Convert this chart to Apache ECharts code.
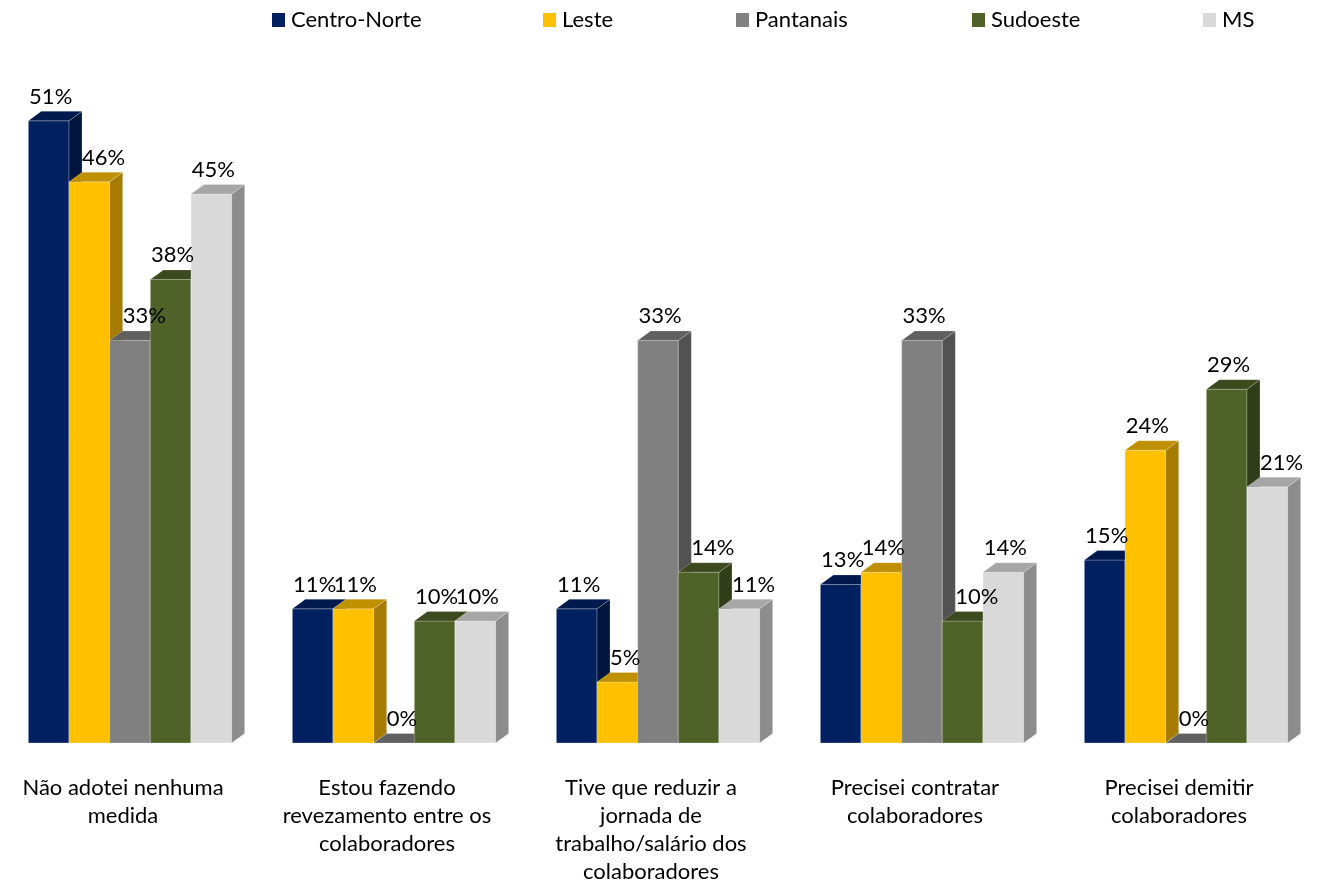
<!DOCTYPE html>
<html>
<head>
<meta charset="utf-8">
<script src="https://cdn.jsdelivr.net/npm/echarts@6/dist/echarts.min.js"></script>
<style>
  html, body { margin: 0; padding: 0; background: #ffffff; }
  #chart { width: 1329px; height: 881px; }
</style>
</head>
<body>
<div id="chart"></div>
<script>
// Categories (line breaks as they wrap under each group)
const categories = [
  'Não adotei nenhuma\nmedida',
  'Estou fazendo\nrevezamento entre os\ncolaboradores',
  'Tive que reduzir a\njornada de\ntrabalho/salário dos\ncolaboradores',
  'Precisei contratar\ncolaboradores',
  'Precisei demitir\ncolaboradores'
];

const seriesNames = ['Centro-Norte', 'Leste', 'Pantanais', 'Sudoeste', 'MS'];

// Share of companies per region (%)
const centroNorte = [51, 11, 11, 13, 15];
const leste       = [46, 11, 5, 14, 24];
const pantanais   = [33, 0, 33, 33, 0];
const sudoeste    = [38, 10, 14, 10, 29];
const ms          = [45, 10, 11, 14, 21];

const seriesValues = [centroNorte, leste, pantanais, sudoeste, ms];

// Face colours of each 3D column: front, top and right side
const faces = [
  { front: '#002060', top: '#001a4e', side: '#00153e' },
  { front: '#FFC000', top: '#BF9000', side: '#A67C00' },
  { front: '#808080', top: '#606060', side: '#525252' },
  { front: '#4F6228', top: '#3C4A1E', side: '#313D18' },
  { front: '#D9D9D9', top: '#A6A6A6', side: '#8C8C8C' }
];

const FONT = 'Lato, "Open Sans", sans-serif';
const FONT_SIZE = 22;
const GROUP_RATIO = 0.77;   // share of a category band taken by its columns
const DEPTH_X = 13;         // oblique depth of the columns
const DEPTH_Y = 9.5;
const EDGE = 'rgba(255,255,255,0.35)';

function columnRenderer(sIdx) {
  return function (params, api) {
    const cat = api.value(0);
    const val = api.value(1);
    const base = api.coord([cat, 0]);
    const head = api.coord([cat, val]);
    const band = api.size([1, 0])[0];
    const groupW = band * GROUP_RATIO;
    const barW = groupW / seriesNames.length;
    const x0 = base[0] - groupW / 2 + sIdx * barW;
    const x1 = x0 + barW;
    const yB = base[1];
    const yT = head[1];
    const c = faces[sIdx];

    // Value label: centred over the column, pushed clear of a taller left neighbour's side face
    const prevVal = sIdx > 0 ? seriesValues[sIdx - 1][cat] : -1;
    const shifted = prevVal > val;
    const label = {
      type: 'text',
      z2: 100,
      x: shifted ? x0 + DEPTH_X : x0 + barW / 2 + 2,
      y: yT - 24,
      style: {
        text: val + '%',
        fontSize: FONT_SIZE,
        fontFamily: FONT,
        fill: '#000000',
        align: shifted ? 'left' : 'center',
        verticalAlign: 'middle'
      }
    };

    return {
      type: 'group',
      children: [
        {
          type: 'rect',
          shape: { x: x0, y: yT, width: barW, height: yB - yT },
          style: { fill: c.front, stroke: EDGE, lineWidth: 0.8 }
        },
        {
          type: 'polygon',
          shape: { points: [[x1, yT], [x1 + DEPTH_X, yT - DEPTH_Y], [x1 + DEPTH_X, yB - DEPTH_Y], [x1, yB]] },
          style: { fill: c.side, stroke: EDGE, lineWidth: 0.6 }
        },
        {
          type: 'polygon',
          shape: { points: [[x0, yT], [x0 + DEPTH_X, yT - DEPTH_Y], [x1 + DEPTH_X, yT - DEPTH_Y], [x1, yT]] },
          style: { fill: c.top, stroke: EDGE, lineWidth: 0.6 }
        },
        label
      ]
    };
  };
}

const legendLefts = [272, 543, 736, 972, 1203];

const option = {
  animation: false,
  backgroundColor: '#ffffff',
  legend: seriesNames.map((name, i) => ({
    data: [name],
    left: legendLefts[i],
    top: 9,
    padding: 0,
    icon: 'rect',
    itemWidth: 13,
    itemHeight: 14,
    itemGap: 0,
    selectedMode: false,
    textStyle: { fontSize: FONT_SIZE, fontFamily: FONT, color: '#000000', padding: [0, 0, 0, 1] }
  })),
  grid: {
    left: -2,
    width: 1320,
    top: 11,
    bottom: 138,
    outerBoundsMode: 'none',
    containLabel: false
  },
  xAxis: {
    type: 'category',
    data: categories,
    axisLine: { show: false },
    axisTick: { show: false },
    splitLine: { show: false },
    axisLabel: {
      interval: 0,
      margin: 31,
      fontSize: FONT_SIZE,
      lineHeight: 28,
      fontFamily: FONT,
      color: '#000000',
      align: 'center',
      padding: [0, 14, 0, 0]
    }
  },
  yAxis: {
    type: 'value',
    min: 0,
    max: 60,
    show: false
  },
  series: seriesNames.map((name, i) => ({
    name: name,
    type: 'custom',
    renderItem: columnRenderer(i),
    itemStyle: { color: faces[i].front },
    encode: { x: 0, y: 1 },
    data: seriesValues[i].map((v, k) => [k, v])
  }))
};

const chart = echarts.init(document.getElementById('chart'));
chart.setOption(option);
</script>
</body>
</html>
